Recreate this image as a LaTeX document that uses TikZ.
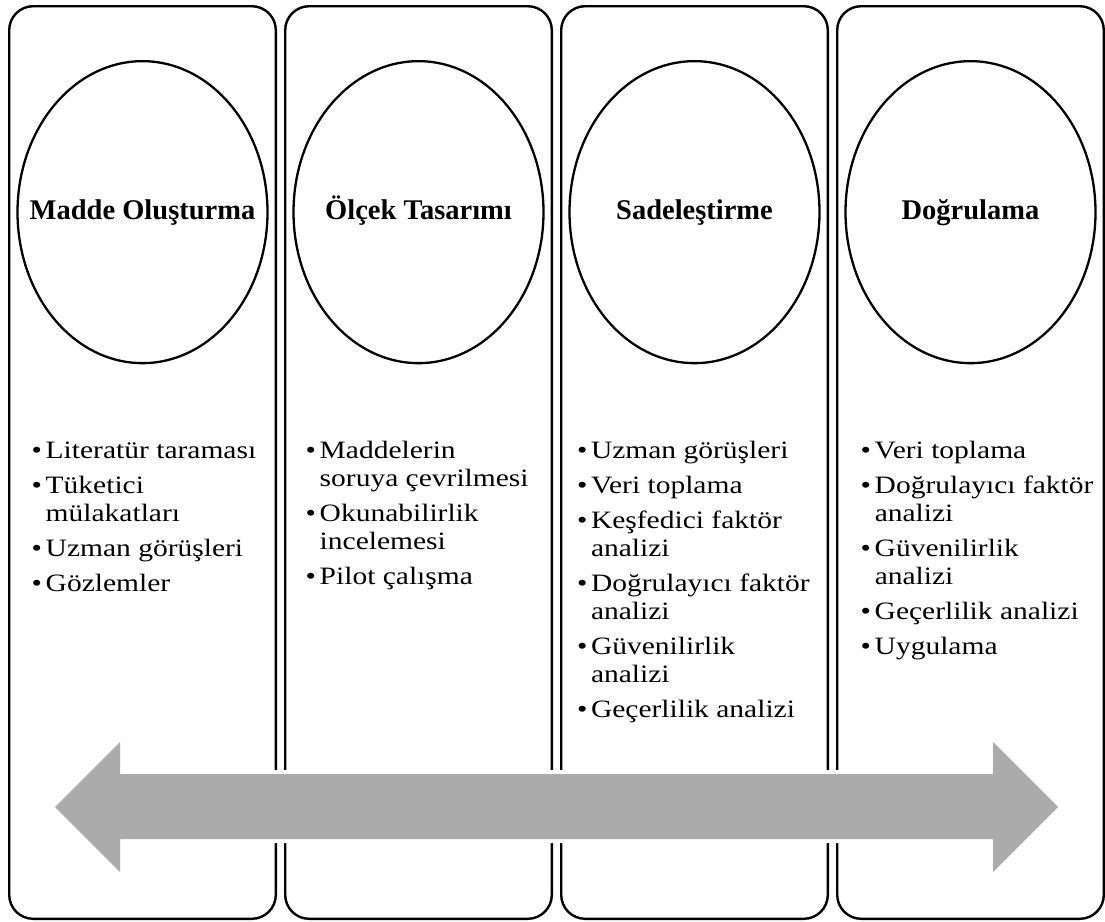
\documentclass[tikz,border=0pt]{standalone}
\usepackage{fontspec}
\setmainfont{Liberation Serif}
\usetikzlibrary{shapes.geometric, positioning, calc}
\definecolor{arrowgray}{HTML}{ABABAB}
\newcommand{\steplist}[1]{\scalebox{1.18}[1]{\begin{tabular}{@{}p{11.9pt}@{}l@{}}#1\end{tabular}}}

\begin{document}
\begin{tikzpicture}[
    x=1pt, y=-1pt,
    stage/.style={draw, rounded corners=24pt, line width=2.4pt, minimum width=266.6pt, minimum height=912.6pt, inner sep=0pt},
    phase/.style={ellipse, draw, line width=2.3pt, minimum width=250pt, minimum height=302pt, inner sep=0pt},
    title/.style={inner sep=0pt, text height=20pt, text depth=6pt, font=\fontsize{28.5}{33}\selectfont\bfseries},
    items/.style={anchor=north west, inner sep=0pt, font=\fontsize{25}{28}\selectfont},
    flow/.style={fill=arrowgray, preaction={draw=white, line width=8pt, line join=round}}
  ]
  \useasboundingbox (0,0) rectangle (1105,921);

  \foreach \i/\name in {1/Madde Oluşturma, 2/Ölçek Tasarımı, 3/Sadeleştirme, 4/Doğrulama} {
    \node[stage] (stage\i) at ({142.5+276*(\i-1)}, 462.5) {};
    \node[phase, below=55pt of stage\i.north] (phase\i) {};
    \node[title] (title\i) at (phase\i.center) {\name};
  }

  \node[items] (list1) at ($(stage1.north west)+(23.5,433.8)$) {\steplist{%
    \textbullet & Literatür taraması\\[7pt]
    \textbullet & Tüketici\\
                & mülakatları\\[7pt]
    \textbullet & Uzman görüşleri\\[7pt]
    \textbullet & Gözlemler}};
  \node[items] (list2) at ($(stage2.north west)+(21.5,433.8)$) {\steplist{%
    \textbullet & Maddelerin\\
                & soruya çevrilmesi\\[7pt]
    \textbullet & Okunabilirlik\\
                & incelemesi\\[7pt]
    \textbullet & Pilot çalışma}};
  \node[items] (list3) at ($(stage3.north west)+(16.8,433.8)$) {\steplist{%
    \textbullet & Uzman görüşleri\\[7pt]
    \textbullet & Veri toplama\\[7pt]
    \textbullet & Keşfedici faktör\\
                & analizi\\[7pt]
    \textbullet & Doğrulayıcı faktör\\
                & analizi\\[7pt]
    \textbullet & Güvenilirlik\\
                & analizi\\[7pt]
    \textbullet & Geçerlilik analizi}};
  \node[items] (list4) at ($(stage4.north west)+(24.5,433.8)$) {\steplist{%
    \textbullet & Veri toplama\\[7pt]
    \textbullet & Doğrulayıcı faktör\\
                & analizi\\[7pt]
    \textbullet & Güvenilirlik\\
                & analizi\\[7pt]
    \textbullet & Geçerlilik analizi\\[7pt]
    \textbullet & Uygulama}};

  % two-headed process arrow
  \fill[flow] (55,807) -- (120,742) -- (120,774) -- (993,774) -- (993,742) -- (1058,807)
    -- (993,872) -- (993,839) -- (120,839) -- (120,872) -- cycle;
\end{tikzpicture}
\end{document}
